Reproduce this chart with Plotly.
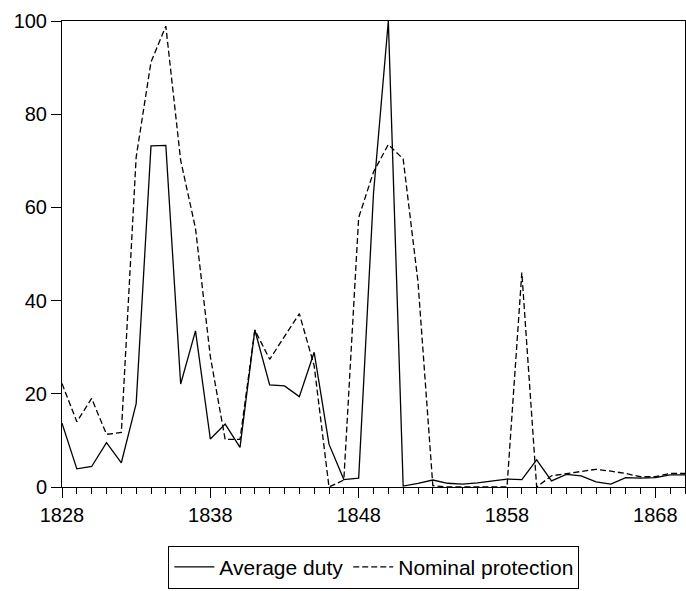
import plotly.graph_objects as go

years = list(range(1828, 1871))

average_duty = [
    13.7, 3.9, 4.4, 9.5, 5.2, 17.9, 73.2, 73.3, 22.1, 33.5,
    10.3, 13.5, 8.5, 33.7, 21.9, 21.7, 19.4, 28.9, 9.2, 1.6,
    1.9, 63.0, 100.0, 0.2, 0.8, 1.5, 0.8, 0.6, 0.9, 1.3,
    1.7, 1.6, 5.8, 1.3, 2.7, 2.4, 1.1, 0.6, 2.0, 1.9,
    2.0, 2.6, 2.6,
]

nominal_protection = [
    22.2, 14.0, 19.0, 11.3, 11.7, 70.8, 91.2, 98.9, 70.1, 55.5,
    28.0, 10.2, 10.2, 33.7, 27.4, 32.3, 37.2, 26.0, 0.0, 1.5,
    57.8, 67.6, 73.5, 70.4, 44.0, 0.3, 0.0, 0.0, 0.0, 0.0,
    0.0, 46.0, 0.0, 2.4, 2.9, 3.4, 3.8, 3.4, 2.9, 2.2,
    2.2, 2.9, 2.9,
]

y_ticks = [0, 20, 40, 60, 80, 100]
x_ticks = [1828, 1838, 1848, 1858, 1868]

FONT = "Liberation Sans, Arial, Helvetica, sans-serif"

fig = go.Figure()
fig.add_trace(go.Scatter(
    x=years, y=average_duty, mode="lines", name="Average duty",
    line=dict(color="black", width=1.3),
))
fig.add_trace(go.Scatter(
    x=years, y=nominal_protection, mode="lines", name="Nominal protection",
    line=dict(color="black", width=1.3, dash="6px,3px"),
))

fig.update_layout(
    width=686, height=591,
    margin=dict(l=62, r=1, t=21, b=104, autoexpand=False),
    paper_bgcolor="white", plot_bgcolor="white",
    font=dict(family=FONT, size=20, color="black"),
    showlegend=True,
    legend=dict(
        orientation="h",
        xref="container", x=0.545, xanchor="center",
        yref="container", y=0.004, yanchor="bottom",
        bordercolor="black", borderwidth=1, bgcolor="white",
        font=dict(family=FONT, size=21, color="black"),
        itemwidth=40, tracegroupgap=0,
    ),
)

fig.update_xaxes(
    range=[1828, 1870], showgrid=False, zeroline=False, automargin=False,
    showline=True, linecolor="black", linewidth=1, mirror=True,
    ticks="outside", ticklen=10, tickcolor="black", tickwidth=1,
    tickvals=x_ticks, ticktext=[str(v) for v in x_ticks],
    minor=dict(dtick=1, tick0=1828, ticks="outside", ticklen=6,
               tickcolor="black", tickwidth=1, showgrid=False),
    tickfont=dict(family=FONT, size=20, color="black"),
)
fig.update_yaxes(
    range=[0, 100], showgrid=False, zeroline=False, automargin=False,
    showline=True, linecolor="black", linewidth=1, mirror=True,
    ticks="outside", ticklen=10, tickcolor="black", tickwidth=1,
    tickvals=y_ticks, ticktext=[str(v) for v in y_ticks],
    tickfont=dict(family=FONT, size=20, color="black"),
)

fig.write_html(
    "out.html",
    config={"displayModeBar": False},
    post_script="document.body.style.margin='0px';document.body.style.overflow='hidden';",
)
